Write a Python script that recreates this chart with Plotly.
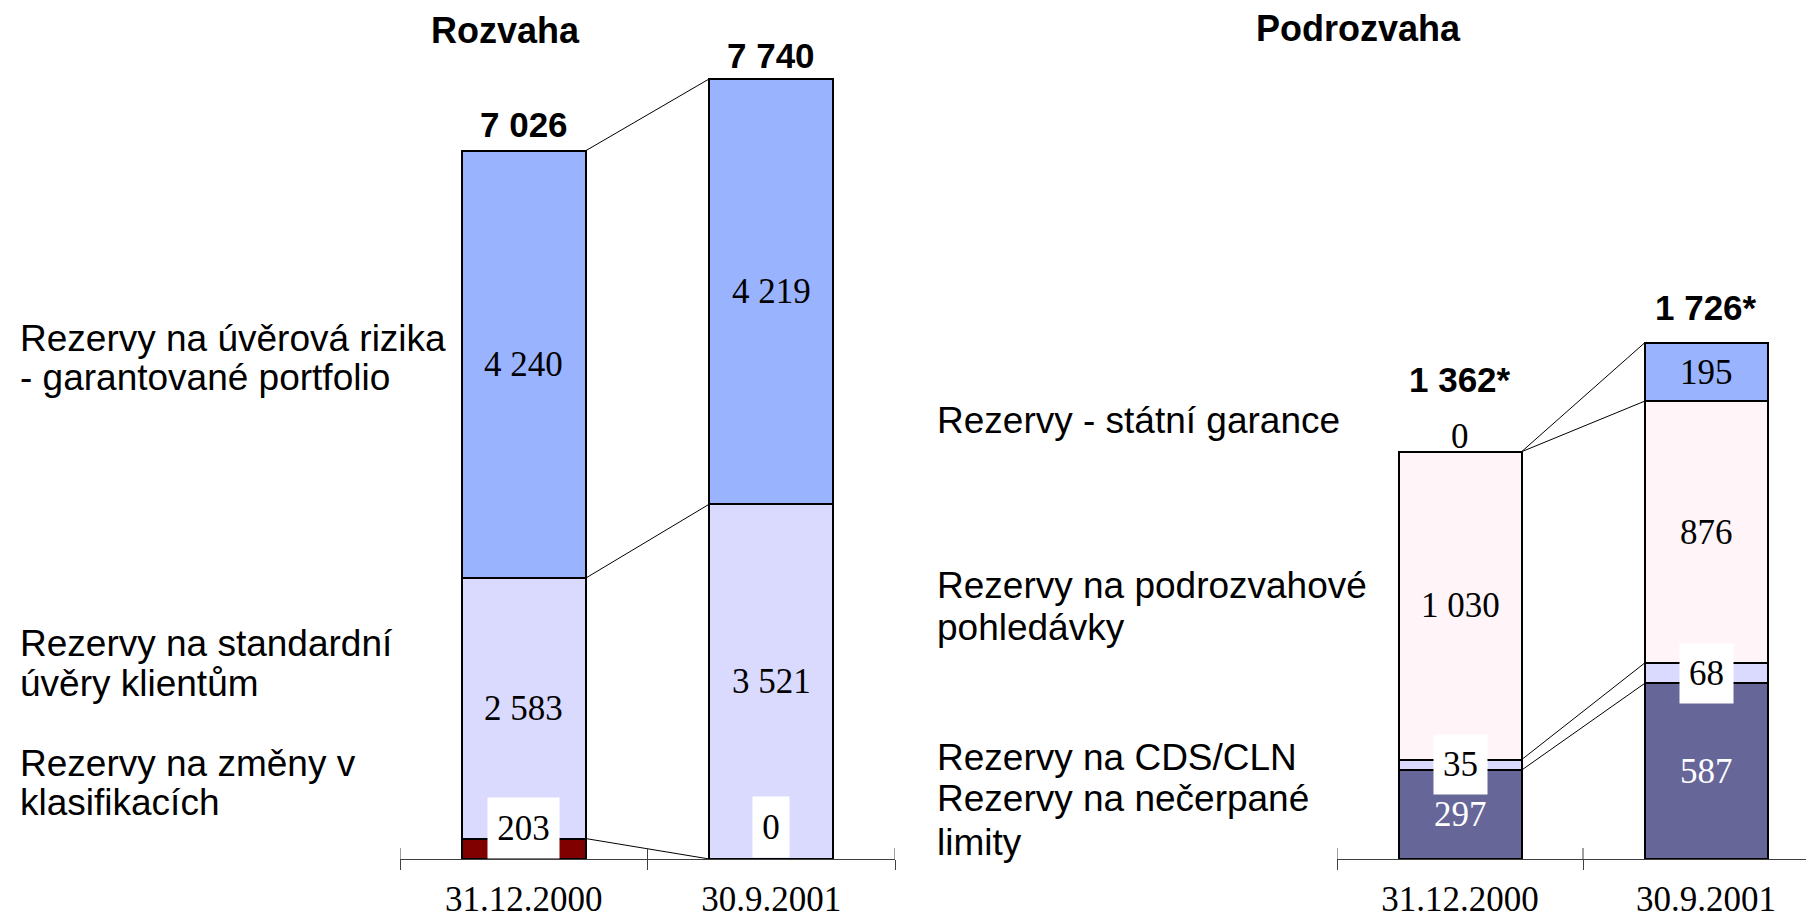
import plotly.graph_objects as go

dates = ["31.12.2000", "30.9.2001"]

# Rozvaha - stacked from the bottom up
bal_klasifikace = [203, 0]
bal_standardni = [2583, 3521]
bal_garantovane = [4240, 4219]

# Podrozvaha - stacked from the bottom up
off_necerpane = [297, 587]
off_cds = [35, 68]
off_podrozvahove = [1030, 876]
off_statni = [0, 195]

panel_titles = ["Rozvaha", "Podrozvaha"]
bal_lines = ["Rezervy na úvěrová rizika", "- garantované portfolio",
             "Rezervy na standardní", "úvěry klientům",
             "Rezervy na změny v", "klasifikacích"]
off_lines = ["Rezervy - státní garance",
             "Rezervy na podrozvahové", "pohledávky",
             "Rezervy na CDS/CLN",
             "Rezervy na nečerpané", "limity"]

BLUE = "#99B3FF"
LAVENDER = "#DADAFF"
PINK = "#FFF5F9"
NAVY = "#666699"
DARKRED = "#800000"

# layout is measured in window px; the page body keeps an 8px margin,
# so the figure sits 8px in from the top-left corner
WIN_W, OFF = 1814, 8
W, H = WIN_W - OFF, 923
BASE_PX = 859          # baseline of both axes (window px from top)
TOP_PX = 60
SANS = "Liberation Sans"
SERIF = "Liberation Serif"


def px_x(px):
    return (px - OFF) / W


def px_y(px):
    return 1 - (px - OFF) / H


def fmt(v):
    return f"{v:,}".replace(",", " ")


left = [
    (bal_klasifikace, DARKRED, dict(color="black", shift=[21, 32], boxes=[(71, 60), (36, 60)])),
    (bal_standardni, LAVENDER, dict(color="black")),
    (bal_garantovane, BLUE, dict(color="black")),
]
right = [
    (off_necerpane, NAVY, dict(color="white")),
    (off_cds, LAVENDER, dict(color="black", boxes=[(53, 59), (53, 59)])),
    (off_podrozvahove, PINK, dict(color="black")),
    (off_statni, BLUE, dict(color="black", shift=[15, 0])),
]

fig = go.Figure()
shapes = []
annotations = []


def add_panel(series, xa, ya, total_shift, star):
    cum = [0, 0]
    for vals, color, style in series:
        fig.add_trace(go.Bar(
            x=dates, y=vals, width=0.5,
            marker=dict(color=color, line=dict(color="black", width=2)),
            xaxis=xa, yaxis=ya, hoverinfo="x+y",
        ))
        for i, v in enumerate(vals):
            ann = dict(x=dates[i], y=cum[i] + v / 2, xref=xa, yref=ya, text=fmt(v),
                       showarrow=False, yshift=style.get("shift", [0, 0])[i],
                       font=dict(family=SERIF, size=35, color=style["color"]))
            boxes = style.get("boxes")
            if boxes:
                ann.update(bgcolor="white", width=boxes[i][0], height=boxes[i][1], borderpad=0)
            annotations.append(ann)
        new = [cum[0] + vals[0], cum[1] + vals[1]]
        # series line joining the tops of the segments
        shapes.append(dict(type="line", xref=xa, yref=ya, x0=0.25, x1=0.75,
                           y0=new[0], y1=new[1], line=dict(color="black", width=1)))
        cum = new
    for i in range(2):
        annotations.append(dict(x=dates[i], y=cum[i], xref=xa, yref=ya,
                                text=f"<b>{fmt(cum[i])}{star}</b>", showarrow=False,
                                yanchor="middle", yshift=total_shift[i],
                                font=dict(family=SANS, size=35, color="black")))


add_panel(left, "x", "y", [26, 23], "")
add_panel(right, "x2", "y2", [72, 35], "*")

# upward halves of the tick marks crossing the axis line
for xa, ya, bounds in (("x", "y", [-0.5, 0.5, 1.5]), ("x2", "y2", [-0.5, 0.5])):
    for b in bounds:
        shapes.append(dict(type="line", xref=xa, yref=ya + " domain", x0=b, x1=b,
                           y0=0, y1=11 / (BASE_PX - TOP_PX), line=dict(color="#404040", width=1)))

# titles
for title, xpx, ypx in zip(panel_titles, [506, 1358], [30, 28]):
    annotations.append(dict(x=px_x(xpx), y=px_y(ypx), xref="paper", yref="paper",
                            text=f"<b>{title}</b>", xanchor="center", yanchor="middle",
                            showarrow=False, font=dict(family=SANS, size=36, color="black")))

# category names, one annotation per line
for text, ypx in zip(bal_lines, [338, 378, 643, 683, 763, 802]):
    annotations.append(dict(x=px_x(18), y=px_y(ypx), xref="paper", yref="paper", text=text,
                            xanchor="left", yanchor="middle", showarrow=False,
                            font=dict(family=SANS, size=37, color="black")))
for text, ypx in zip(off_lines, [420, 585, 627, 757, 798, 842]):
    annotations.append(dict(x=px_x(935), y=px_y(ypx), xref="paper", yref="paper", text=text,
                            xanchor="left", yanchor="middle", showarrow=False,
                            font=dict(family=SANS, size=37, color="black")))

y_dom = [px_y(BASE_PX), px_y(TOP_PX)]
axis_common = dict(type="category", showgrid=False, zeroline=False, showline=True,
                   linecolor="#404040", linewidth=1, ticks="outside", tickson="boundaries",
                   ticklen=10, tickcolor="#404040", tickwidth=1, ticklabelstandoff=9,
                   tickfont=dict(family=SERIF, size=35, color="black"), fixedrange=True)

fig.update_layout(
    width=W, height=H,
    margin=dict(l=0, r=0, t=0, b=0),
    paper_bgcolor="white", plot_bgcolor="white",
    barmode="stack", showlegend=False,
    xaxis=dict(domain=[px_x(400), px_x(895)], range=[-0.5, 1.5], anchor="y", **axis_common),
    xaxis2=dict(domain=[px_x(1337), 1.0], range=[-0.5, -0.5 + (WIN_W - 1337) / 246],
                anchor="y2", **axis_common),
    yaxis=dict(domain=y_dom, range=[0, (BASE_PX - TOP_PX) / 0.1008], visible=False, anchor="x"),
    yaxis2=dict(domain=y_dom, range=[0, (BASE_PX - TOP_PX) / 0.299], visible=False, anchor="x2"),
    shapes=shapes,
    annotations=annotations,
)

fig.write_html("out.html")
